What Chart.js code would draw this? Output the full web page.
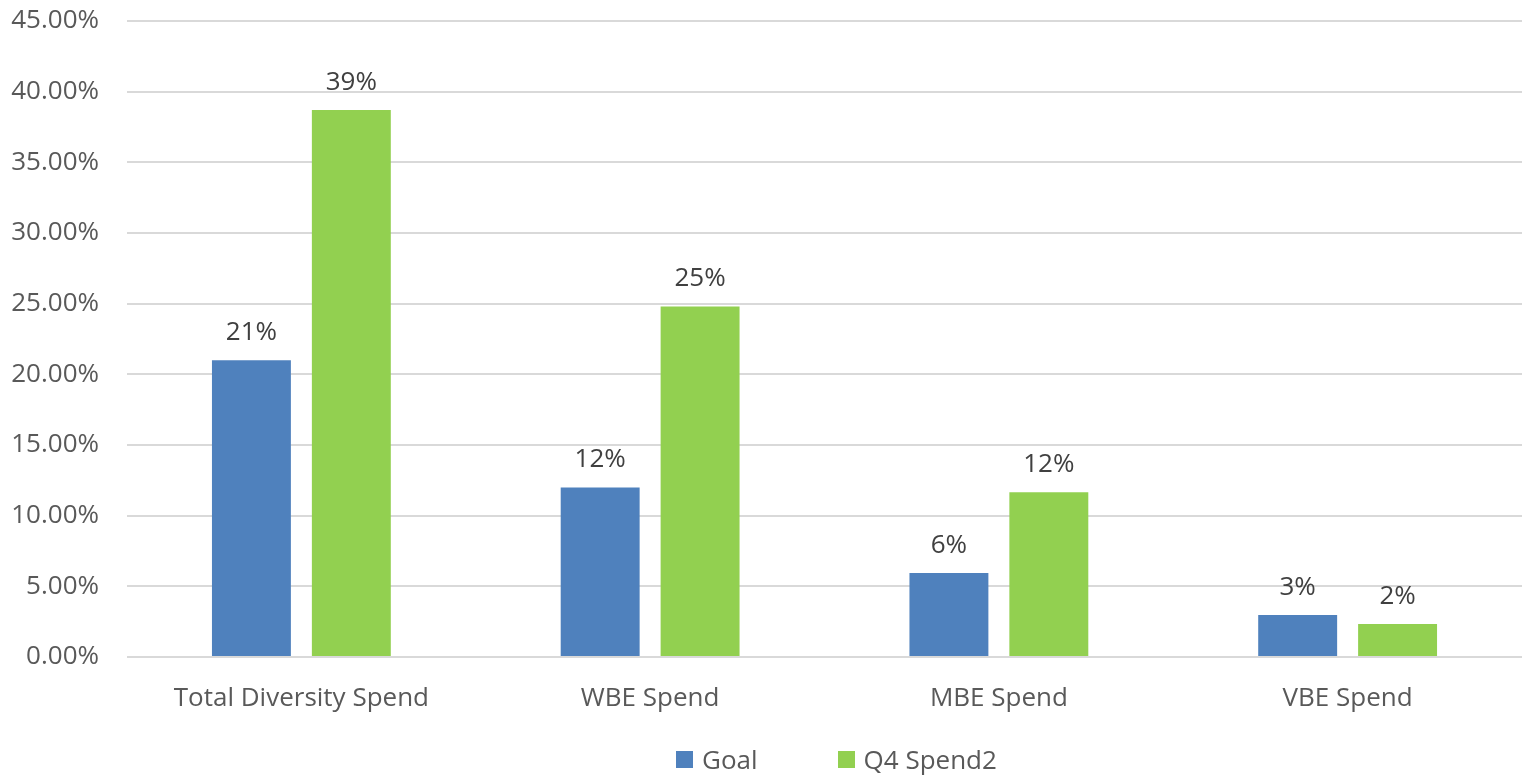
<!DOCTYPE html>
<html>
<head>
  <title>Diversity Spend</title>
  <script src="https://cdn.jsdelivr.net/npm/chart.js"></script>
  <style>
    body { margin: 0; background: #fff; overflow: hidden; }
    #wrap { position: relative; width: 1522px; height: 776px; }
    #legend { position: absolute; left: 676px; top: 742px; display: flex; align-items: center;
      font-family: "Open Sans", sans-serif; font-size: 26px; line-height: 34px; color: #595959; }
    #legend span.box { display: inline-block; width: 17px; height: 17px; margin-right: 9px; }
    #legend span.item { display: flex; align-items: center; margin-right: 80px; }
  </style>
</head>
<body>
  <div id="wrap">
    <canvas id="chart" width="1522" height="776"></canvas>
    <div id="legend"></div>
  </div>

  <script>
    // categories and series (percent)
    const categories = ["Total Diversity Spend", "WBE Spend", "MBE Spend", "VBE Spend"];
    const goal = [21, 12, 5.95, 2.97];
    const q4Spend = [38.7, 24.8, 11.65, 2.33];
    const seriesNames = ["Goal", "Q4 Spend2"];
    const seriesColors = ["#4F81BD", "#92D050"];

    const textColor = "#595959";
    const fontFamily = "'Open Sans', sans-serif";
    const fontSize = 26;

    // draws the rounded value above each bar
    const valueLabels = {
      id: "valueLabels",
      afterDatasetsDraw(chart) {
        const ctx = chart.ctx;
        ctx.save();
        ctx.font = fontSize + "px " + fontFamily;
        ctx.fillStyle = "#404040";
        ctx.textAlign = "center";
        ctx.textBaseline = "alphabetic";
        chart.data.datasets.forEach((ds, i) => {
          chart.getDatasetMeta(i).data.forEach((bar, j) => {
            ctx.fillText(Math.round(ds.data[j]) + "%", bar.x, bar.y - 20);
          });
        });
        ctx.restore();
      }
    };

    const ctx = document.getElementById("chart").getContext("2d");
    new Chart(ctx, {
      type: "bar",
      data: {
        labels: categories,
        datasets: [
          { label: seriesNames[0], data: goal, backgroundColor: seriesColors[0] },
          { label: seriesNames[1], data: q4Spend, backgroundColor: seriesColors[1] }
        ]
      },
      options: {
        responsive: false,
        animation: false,
        categoryPercentage: 0.573,
        barPercentage: 0.79,
        layout: { padding: { left: 10, right: 0, top: 21, bottom: 39 } },
        plugins: {
          legend: { display: false },
          tooltip: { enabled: false }
        },
        scales: {
          x: {
            afterFit: s => { s.height = 80; s.paddingLeft = 0; s.paddingRight = 0; },
            grid: { display: false },
            border: { display: false },
            ticks: { color: textColor, font: { family: fontFamily, size: fontSize }, padding: 18 }
          },
          y: {
            min: 0,
            max: 45,
            afterFit: s => { s.width = 117; s.paddingTop = 0; s.paddingBottom = 0; },
            grid: { color: "#D9D9D9", lineWidth: 2, drawTicks: false },
            border: { display: false },
            ticks: {
              stepSize: 5,
              padding: 28,
              color: textColor,
              font: { family: fontFamily, size: fontSize },
              callback: v => v.toFixed(2) + "%"
            }
          }
        }
      },
      plugins: [valueLabels]
    });

    // html legend built from the series
    const legend = document.getElementById("legend");
    seriesNames.forEach((name, i) => {
      const item = document.createElement("span");
      item.className = "item";
      item.innerHTML = '<span class="box" style="background:' + seriesColors[i] + '"></span>' + name;
      legend.appendChild(item);
    });
  </script>
</body>
</html>
